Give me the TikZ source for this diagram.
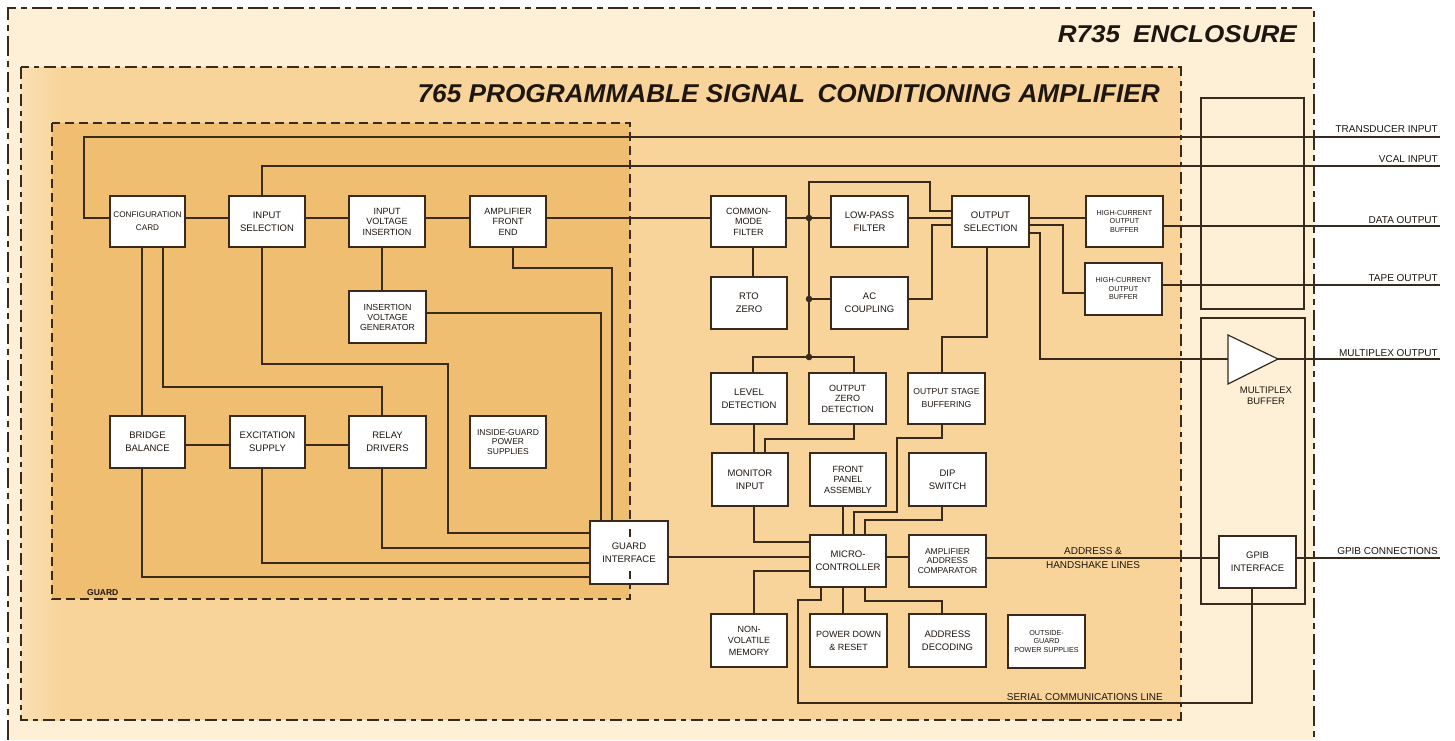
\documentclass[tikz,border=0pt]{standalone}
\usepackage{fontspec}
\setmainfont{Liberation Sans}
\usetikzlibrary{calc}
\definecolor{encl}{HTML}{FDF0D6}
\definecolor{amp}{HTML}{F8D49A}
\definecolor{grd}{HTML}{F0BE70}
\definecolor{ink}{HTML}{3A2A1C}
\definecolor{txt}{HTML}{1E1610}
\tikzset{
 bbox/.style={draw=ink, fill=white, line width=1.2pt, inner sep=0pt, align=center, text=txt, font=\fontsize{9.5}{13}\selectfont},
 tl3/.style={font=\fontsize{9}{10.5}\selectfont},
 smalltxt/.style={font=\fontsize{7.2}{8.5}\selectfont},
 wire/.style={draw=ink, line width=1.2pt},
 lbl/.style={font=\fontsize{10}{12}\selectfont, inner sep=0pt, text=txt},
 jdot/.style={fill=ink},
 encdash/.style={draw=ink, line width=1.2pt, dash pattern=on 20pt off 5pt on 6pt off 5pt},
 ampdash/.style={draw=ink, line width=1.2pt, dash pattern=on 12pt off 5pt on 5pt off 5pt},
 grddash/.style={draw=ink, line width=1.3pt, dash pattern=on 9pt off 5pt},
}
\newcommand\mybox[7][]{\node[bbox,#1,minimum width={(#5-#3)*1pt},minimum height={(#6-#4)*1pt}] (#2) at ({(#3+#5)/2},{(#4+#6)/2}) {#7};}
\begin{document}
\begin{tikzpicture}[x=1pt,y=-1pt]
\useasboundingbox (0,0) rectangle (1455,740);
\fill[white] (0,0) rectangle (1455,740);
% enclosures
\fill[encl] (8,8) rectangle (1314,740);
\draw[encdash] (8,740) -- (8,8) -- (1314,8) -- (1314,740);
\fill[amp] (21,67) rectangle (1181,720);
\shade[left color=amp!55!encl, right color=amp] (21,67) rectangle (60,720);
\draw[ampdash] (21,67) rectangle (1181,720);
\fill[grd] (52,123) rectangle (630,599);
\draw[grddash] (52,123) rectangle (630,599);
% titles
\node[anchor=base east, inner sep=0pt, text=txt] (t735) at (1297,42) {\resizebox{239pt}{17pt}{\bfseries\itshape R735\hspace{0.5em}ENCLOSURE}};
\node[anchor=base east, inner sep=0pt, text=txt] (t765) at (1160,102) {\resizebox{742pt}{18pt}{\bfseries\itshape 765 PROGRAMMABLE SIGNAL\hspace{0.2em} CONDITIONING AMPLIFIER}};
\node[anchor=base west, inner sep=0pt, text=txt, font=\bfseries\fontsize{8.5}{10}\selectfont] (tguard) at (87,595) {GUARD};
% right side frames
\draw[wire] (1201,98) rectangle (1304,309);
\draw[wire] (1201,318) rectangle (1305,604);
% boxes
\mybox[font=\fontsize{8.2}{13}\selectfont]{cfg}{110}{196}{185}{247}{CONFIGURATION\\CARD}
\mybox{insel}{229}{196}{305}{247}{INPUT\\SELECTION}
\mybox[tl3]{ivi}{349}{196}{425}{247}{INPUT\\VOLTAGE\\INSERTION}
\mybox[tl3]{afe}{470}{196}{546}{247}{AMPLIFIER\\FRONT\\END}
\mybox[tl3]{cmf}{711}{196}{786}{247}{COMMON-\\MODE\\FILTER}
\mybox{lpf}{831}{196}{908}{247}{LOW-PASS\\FILTER}
\mybox{osel}{952}{196}{1029}{247}{OUTPUT\\SELECTION}
\mybox[smalltxt]{hcb1}{1086}{196}{1163}{247}{HIGH-CURRENT\\OUTPUT\\BUFFER}
\mybox[smalltxt]{hcb2}{1085}{263}{1162}{315}{HIGH-CURRENT\\OUTPUT\\BUFFER}
\mybox[font=\fontsize{8.8}{10}\selectfont]{ivg}{349}{291}{426}{343}{INSERTION\\VOLTAGE\\GENERATOR}
\mybox{rto}{711}{277}{787}{329}{RTO\\ZERO}
\mybox{acc}{831}{277}{908}{329}{AC\\COUPLING}
\mybox{lvl}{711}{373}{787}{424}{LEVEL\\DETECTION}
\mybox[tl3]{ozd}{809}{373}{886}{424}{OUTPUT\\ZERO\\DETECTION}
\mybox[font=\fontsize{8.6}{13}\selectfont]{osb}{908}{373}{985}{424}{OUTPUT STAGE\\BUFFERING}
\mybox{bb}{110}{416}{185}{468}{BRIDGE\\BALANCE}
\mybox{exc}{230}{416}{305}{468}{EXCITATION\\SUPPLY}
\mybox{rly}{349}{416}{426}{468}{RELAY\\DRIVERS}
\mybox[font=\fontsize{8.5}{9.5}\selectfont]{igps}{470}{416}{546}{468}{INSIDE-GUARD\\POWER\\SUPPLIES}
\mybox{mon}{712}{453}{788}{506}{MONITOR\\INPUT}
\mybox[tl3]{fpa}{810}{453}{886}{506}{FRONT\\PANEL\\ASSEMBLY}
\mybox{dip}{909}{453}{986}{506}{DIP\\SWITCH}
\mybox{gi}{590}{521}{668}{584}{GUARD\\INTERFACE}
\mybox{mc}{810}{535}{886}{587}{MICRO-\\CONTROLLER}
\mybox[font=\fontsize{8.5}{9.5}\selectfont]{aac}{909}{535}{986}{587}{AMPLIFIER\\ADDRESS\\COMPARATOR}
\mybox[font=\fontsize{9}{11.5}\selectfont]{nvm}{711}{614}{787}{667}{NON-\\VOLATILE\\MEMORY}
\mybox[font=\fontsize{9}{13}\selectfont]{pdr}{810}{614}{887}{667}{POWER DOWN\\\& RESET}
\mybox{adec}{909}{614}{986}{667}{ADDRESS\\DECODING}
\mybox[smalltxt]{ogps}{1008}{615}{1085}{668}{OUTSIDE-\\GUARD\\POWER SUPPLIES}
\mybox{gpib}{1219}{536}{1296}{588}{GPIB\\INTERFACE}
% guard line marks through guard interface
\draw[ink, line width=1.2pt] (630,529) -- (630,537);
\draw[ink, line width=1.2pt] (630,571) -- (630,579);
% multiplex buffer
\coordinate (muxin) at (1228,359);
\coordinate (muxout) at (1278,359);
\draw[wire, fill=white] (1228,335) -- (muxout) -- (1228,384) -- cycle;
\node[lbl, align=center, font=\fontsize{9.5}{10.5}\selectfont] (mbl) at (1266,396) {MULTIPLEX\\BUFFER};
% free ends
\coordinate (tin) at (1440,137);
\coordinate (vin) at (1440,166);
\coordinate (dout) at (1440,226);
\coordinate (tout) at (1440,285);
\coordinate (mout) at (1440,359);
\coordinate (gout) at (1440,558);
% wires: inputs
\draw[wire] (tin) -- (84,137) -- (84,218) -- (cfg.west |- 0,218);
\draw[wire] (vin) -- (262,166) -- (262,0 |- insel.north);
% main row
\draw[wire] (cfg.east |- 0,218) -- (insel.west |- 0,218);
\draw[wire] (insel.east |- 0,218) -- (ivi.west |- 0,218);
\draw[wire] (ivi.east |- 0,218) -- (afe.west |- 0,218);
\draw[wire] (afe.east |- 0,218) -- (cmf.west |- 0,218);
\draw[wire] (cmf.east |- 0,218) -- (lpf.west |- 0,218);
\draw[wire] (lpf.east |- 0,218) -- (osel.west |- 0,218);
\draw[wire] (809,357) -- (809,182) -- (930,182) -- (930,211) -- (osel.west |- 0,211);
\draw[wire] (809,299) -- (acc.west |- 0,299);
\draw[wire] (acc.east |- 0,299) -- (932,299) -- (932,225) -- (osel.west |- 0,225);
\draw[wire] (753,0 |- lvl.north) -- (753,357) -- (854,357) -- (854,0 |- ozd.north);
\draw[wire] (753,0 |- cmf.south) -- (753,0 |- rto.north);
\fill[jdot] (809,218) circle[radius=3.3pt];
\fill[jdot] (809,299) circle[radius=3.3pt];
\fill[jdot] (809,357) circle[radius=3.3pt];
% outputs
\draw[wire] (osel.east |- 0,218) -- (hcb1.west |- 0,218);
\draw[wire] (osel.east |- 0,225) -- (1063,225) -- (1063,293) -- (hcb2.west |- 0,293);
\draw[wire] (osel.east |- 0,233) -- (1040,233) -- (1040,359) -- (muxin);
\draw[wire] (hcb1.east |- 0,226) -- (dout);
\draw[wire] (hcb2.east |- 0,285) -- (tout);
\draw[wire] (muxout) -- (mout);
\draw[wire] (987,0 |- osel.south) -- (987,337) -- (942,337) -- (942,0 |- osb.north);
% monitoring
\draw[wire] (754,0 |- lvl.south) -- (754,0 |- mon.north);
\draw[wire] (854,0 |- ozd.south) -- (854,439) -- (765,439) -- (765,0 |- mon.north);
\draw[wire] (942,0 |- osb.south) -- (942,438) -- (897,438) -- (897,512) -- (854,512) -- (854,0 |- mc.north);
\draw[wire] (843,0 |- fpa.south) -- (843,0 |- mc.north);
\draw[wire] (942,0 |- dip.south) -- (942,520) -- (865,520) -- (865,0 |- mc.north);
\draw[wire] (754,0 |- mon.south) -- (754,542) -- (mc.west |- 0,542);
\draw[wire] (gi.east |- 0,557) -- (mc.west |- 0,557);
\draw[wire] (mc.east |- 0,557) -- (aac.west |- 0,557);
\draw[wire] (aac.east |- 0,558) -- (gpib.west |- 0,558);
\draw[wire] (gpib.east |- 0,558) -- (gout);
\draw[wire] (821,0 |- mc.south) -- (821,600) -- (798,600) -- (798,703) -- (1252,703) -- (1252,0 |- gpib.south);
\draw[wire] (mc.west |- 0,571) -- (754,571) -- (754,0 |- nvm.north);
\draw[wire] (843,0 |- mc.south) -- (843,0 |- pdr.north);
\draw[wire] (865,0 |- mc.south) -- (865,601) -- (942,601) -- (942,0 |- adec.north);
% guard side
\draw[wire] (142,0 |- cfg.south) -- (142,0 |- bb.north);
\draw[wire] (163,0 |- cfg.south) -- (163,387) -- (382,387) -- (382,0 |- rly.north);
\draw[wire] (262,0 |- insel.south) -- (262,364) -- (448,364) -- (448,533) -- (gi.west |- 0,533);
\draw[wire] (382,0 |- ivi.south) -- (382,0 |- ivg.north);
\draw[wire] (ivg.east |- 0,313) -- (601,313) -- (601,0 |- gi.north);
\draw[wire] (513,0 |- afe.south) -- (513,268) -- (612,268) -- (612,0 |- gi.north);
\draw[wire] (382,0 |- rly.south) -- (382,548) -- (gi.west |- 0,548);
\draw[wire] (262,0 |- exc.south) -- (262,563) -- (gi.west |- 0,563);
\draw[wire] (142,0 |- bb.south) -- (142,577) -- (gi.west |- 0,577);
\draw[wire] (bb.east |- 0,445) -- (exc.west |- 0,445);
\draw[wire] (exc.east |- 0,445) -- (rly.west |- 0,445);
% labels
\node[lbl, anchor=base east] (ltin) at (1438,132) {TRANSDUCER INPUT};
\node[lbl, anchor=base east] (lvin) at (1438,162) {VCAL INPUT};
\node[lbl, anchor=base east] (ldout) at (1438,223) {DATA OUTPUT};
\node[lbl, anchor=base east] (ltout) at (1438,281) {TAPE OUTPUT};
\node[lbl, anchor=base east] (lmout) at (1438,356) {MULTIPLEX OUTPUT};
\node[lbl, anchor=base east] (lgout) at (1438,554) {GPIB CONNECTIONS};
\node[lbl, align=center, font=\fontsize{10}{14}\selectfont] (laddr) at (1093,558) {ADDRESS \&\\HANDSHAKE LINES};
\node[lbl, anchor=base east] (lser) at (1163,700) {SERIAL COMMUNICATIONS LINE};
\end{tikzpicture}
\end{document}
